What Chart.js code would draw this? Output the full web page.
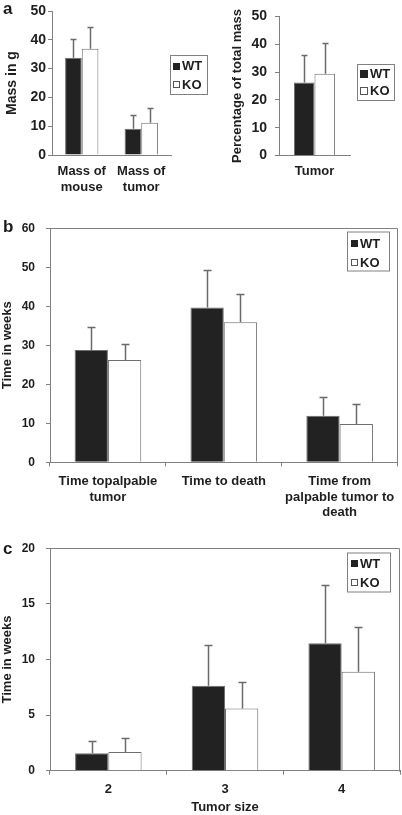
<!DOCTYPE html>
<html><head><meta charset="utf-8">
<script src="https://cdn.jsdelivr.net/npm/chart.js@4.4.0/dist/chart.umd.min.js"></script>
<style>
html,body{margin:0;padding:0;background:#fff;width:402px;height:815px;overflow:hidden}
canvas{position:absolute;display:block}
.lbl{position:absolute;font:bold 17px "Liberation Sans",Arial,sans-serif;line-height:17px;color:#1a1a1a}
</style></head><body>
<canvas id="cA1" width="215" height="205" style="left:0;top:0"></canvas>
<canvas id="cA2" width="187" height="205" style="left:215px;top:0"></canvas>
<canvas id="cB" width="402" height="310" style="left:0;top:210px"></canvas>
<canvas id="cC" width="402" height="295" style="left:0;top:520px"></canvas>
<div class="lbl" style="left:3px;top:0px">a</div>
<div class="lbl" style="left:3px;top:218px">b</div>
<div class="lbl" style="left:3px;top:540px">c</div>
<script>
// ---------------- data ----------------
const seriesNames = ["WT", "KO"];

const aMassCategories = [["Mass of", "mouse"], ["Mass of", "tumor"]];
const aMassWT = [33.8, 9.1];
const aMassWTErr = [6.4, 4.9];
const aMassKO = [36.9, 11.2];
const aMassKOErr = [7.4, 5.1];
const aMassTitle = "Mass in g";

const aPctCategories = ["Tumor"];
const aPctWT = [26.2];
const aPctWTErr = [10.1];
const aPctKO = [29.4];
const aPctKOErr = [11.2];
const aPctTitle = "Percentage of total mass";

const bCategories = [["Time topalpable", "tumor"], "Time to death", ["Time from", "palpable tumor to", "death"]];
const bWT = [28.8, 39.7, 11.9];
const bWTErr = [5.9, 9.6, 4.8];
const bKO = [26.2, 35.9, 9.8];
const bKOErr = [4.1, 7.3, 5.1];
const bTitle = "Time in weeks";

const cCategories = ["2", "3", "4"];
const cWT = [1.56, 7.64, 11.46];
const cWTErr = [1.14, 3.66, 5.24];
const cKO = [1.68, 5.6, 8.9];
const cKOErr = [1.26, 2.38, 4.0];
const cTitle = "Time in weeks";
const cXTitle = "Tumor size";

// ---------------- styling ----------------
const FAM = '"Liberation Sans", Arial, sans-serif';
const TXT = '#1e1e1e';
const AX = '#808080';
const WT_FILL = '#222222';
const KO_FILL = '#ffffff';
const EDGE = '#6e6e6e';

const errorBarPlugin = {
  id: 'errorBars',
  afterDatasetsDraw(chart, args, opts) {
    const ctx = chart.ctx, ys = chart.scales.y;
    const cap = opts.cap || 8;
    ctx.save();
    ctx.strokeStyle = opts.color || '#707070';
    ctx.lineWidth = opts.width || 1.5;
    chart.data.datasets.forEach((ds, i) => {
      const meta = chart.getDatasetMeta(i);
      meta.data.forEach((el, j) => {
        const v = ds.data[j], e = ds.errors[j];
        const yT = Math.round(ys.getPixelForValue(v + e)) + 0.5;
        const x = Math.round(el.x) + 0.5;
        ctx.beginPath();
        ctx.moveTo(x, el.y);
        ctx.lineTo(x, yT);
        ctx.moveTo(x - cap / 2, yT);
        ctx.lineTo(x + cap / 2, yT);
        ctx.stroke();
      });
    });
    ctx.restore();
  }
};

const framePlugin = {
  id: 'frame',
  afterDraw(chart, args, opts) {
    if (!opts.show) return;
    const a = chart.chartArea, ctx = chart.ctx;
    ctx.save();
    ctx.strokeStyle = AX; ctx.lineWidth = 1;
    ctx.beginPath();
    ctx.moveTo(Math.round(a.left) + 0.5, Math.round(a.top) + 0.5);
    ctx.lineTo(Math.round(a.right) - 0.5, Math.round(a.top) + 0.5);
    ctx.lineTo(Math.round(a.right) - 0.5, Math.round(a.bottom) + 0.5);
    ctx.stroke();
    ctx.restore();
  }
};

const boxLegendPlugin = {
  id: 'boxLegend',
  afterDraw(chart, args, o) {
    const ctx = chart.ctx;
    ctx.save();
    ctx.fillStyle = '#fff';
    ctx.fillRect(o.x, o.y, o.w, o.h);
    ctx.strokeStyle = AX; ctx.lineWidth = 1;
    ctx.strokeRect(o.x + 0.5, o.y + 0.5, o.w - 1, o.h - 1);
    ctx.font = 'bold ' + o.size + 'px ' + FAM;
    ctx.textBaseline = 'middle';
    ctx.fillStyle = TXT;
    chart.data.datasets.forEach((ds, i) => {
      const cy = o.y + o.rows[i];
      const sq = o.sq;
      const sx = o.x + o.sqX;
      ctx.fillStyle = ds.backgroundColor;
      ctx.fillRect(sx, Math.round(cy - sq / 2), sq, sq);
      ctx.strokeStyle = i === 0 ? '#222' : '#555';
      ctx.strokeRect(sx + 0.5, Math.round(cy - sq / 2) + 0.5, sq - 1, sq - 1);
      ctx.fillStyle = TXT;
      ctx.fillText(ds.label, sx + sq + o.gap, cy + 0.5);
    });
    ctx.restore();
  }
};

function datasets(wt, wtErr, ko, koErr) {
  return [
    { label: seriesNames[0], data: wt, errors: wtErr, backgroundColor: WT_FILL, borderColor: EDGE, borderWidth: 1 },
    { label: seriesNames[1], data: ko, errors: koErr, backgroundColor: KO_FILL, borderColor: EDGE, borderWidth: 1 }
  ];
}

function makeChart(id, cfg) {
  const font = (s) => ({ family: FAM, size: s, weight: 'bold', lineHeight: 1.2 });
  new Chart(document.getElementById(id), {
    type: 'bar',
    data: { labels: cfg.labels, datasets: datasets(cfg.wt, cfg.wtErr, cfg.ko, cfg.koErr) },
    plugins: [errorBarPlugin, framePlugin, boxLegendPlugin],
    options: {
      responsive: false,
      devicePixelRatio: 1,
      animation: false,
      events: [],
      layout: { padding: cfg.pad },
      datasets: { bar: { categoryPercentage: cfg.catPct, barPercentage: 1 } },
      plugins: {
        legend: { display: false },
        tooltip: { enabled: false },
        errorBars: { cap: cfg.cap, color: '#6a6a6a', width: 1.5 },
        frame: { show: cfg.frame },
        boxLegend: cfg.legend
      },
      scales: {
        x: {
          grid: { display: true, drawOnChartArea: false, drawTicks: cfg.xTicks, tickLength: 4, color: AX, offset: true },
          border: { display: true, color: AX, width: 1 },
          ticks: { color: TXT, font: font(cfg.xFont), padding: cfg.xPad, maxRotation: 0, autoSkip: false },
          title: cfg.xTitle ? { display: true, text: cfg.xTitle, color: TXT, font: font(13), padding: { top: 0, bottom: 0 } } : { display: false },
          afterFit(s) { s.height = cfg.xH; }
        },
        y: {
          min: 0, max: cfg.max,
          grid: { display: true, drawOnChartArea: false, drawTicks: true, tickLength: 4, color: AX },
          border: { display: true, color: AX, width: 1 },
          ticks: { stepSize: cfg.step, color: TXT, font: font(cfg.yFont), padding: cfg.yPad },
          title: { display: true, text: cfg.yTitle, color: TXT, font: font(cfg.tFont), padding: { top: cfg.tPad, bottom: 0 } },
          afterFit(s) { s.width = cfg.yW; }
        }
      }
    }
  });
}

makeChart('cA1', {
  labels: aMassCategories, wt: aMassWT, wtErr: aMassWTErr, ko: aMassKO, koErr: aMassKOErr,
  pad: { top: 11, right: 44, bottom: 0, left: 0 }, catPct: 0.56, cap: 6, frame: false,
  legend: { x: 170, y: 55, w: 38, h: 40, size: 13, sq: 7, sqX: 3, gap: 2, rows: [11, 29.5] },
  xTicks: false, xFont: 13, xPad: 9, xH: 50,
  max: 50, step: 10, yFont: 14, yPad: 2, yTitle: aMassTitle, tFont: 14, tPad: 4, yW: 52
});

makeChart('cA2', {
  labels: aPctCategories, wt: aPctWT, wtErr: aPctWTErr, ko: aPctKO, koErr: aPctKOErr,
  pad: { top: 8, right: 52, bottom: 0, left: 0 }, catPct: 0.58, cap: 6, frame: false,
  legend: { x: 142, y: 64, w: 38, h: 37, size: 13, sq: 8, sqX: 3, gap: 2, rows: [10, 27] },
  xTicks: false, xFont: 13, xPad: 8, xH: 49.5,
  max: 50, step: 10, yFont: 14, yPad: 8, yTitle: aPctTitle, tFont: 13, tPad: 15, yW: 64
});

makeChart('cB', {
  labels: bCategories, wt: bWT, wtErr: bWTErr, ko: bKO, koErr: bKOErr,
  pad: { top: 15.5, right: 2, bottom: 0, left: 0 }, catPct: 0.575, cap: 8, frame: true,
  legend: { x: 347, y: 21.5, w: 43, h: 40, size: 13, sq: 7, sqX: 4, gap: 2, rows: [12, 31] },
  xTicks: true, xFont: 13, xPad: 7.5, xH: 57.7,
  max: 60, step: 10, yFont: 12, yPad: 11, yTitle: bTitle, tFont: 13, tPad: 0, yW: 50
});

makeChart('cC', {
  labels: cCategories, wt: cWT, wtErr: cWTErr, ko: cKO, koErr: cKOErr,
  pad: { top: 28.3, right: 2, bottom: 0, left: 0 }, catPct: 0.57, cap: 8, frame: true,
  legend: { x: 347, y: 32.5, w: 44, h: 40, size: 13, sq: 7, sqX: 4, gap: 2, rows: [11, 30] },
  xTicks: true, xFont: 13, xPad: 6.5, xH: 44.3, xTitle: cXTitle,
  max: 20, step: 5, yFont: 12, yPad: 11, yTitle: cTitle, tFont: 13, tPad: 0, yW: 50
});
</script>
</body></html>
